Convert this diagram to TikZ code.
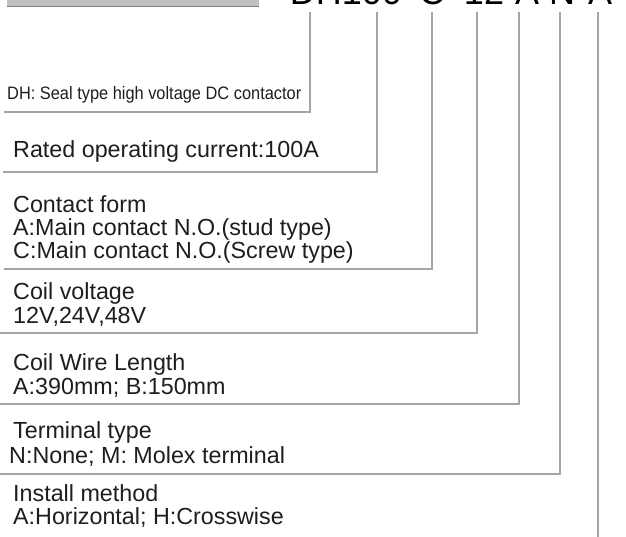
\documentclass[tikz,border=0pt]{standalone}
\usepackage{fontspec}
\setmainfont{Liberation Sans}
\newfontfamily\narrowsans[FakeStretch=0.91]{Liberation Sans}
\definecolor{leadgray}{RGB}{165,165,165}
\definecolor{textdark}{RGB}{30,30,30}
\definecolor{bargray}{RGB}{192,192,192}
\definecolor{barline}{RGB}{130,130,130}
\begin{document}
\begin{tikzpicture}[x=1pt,y=-1pt,
  lead/.style={draw=leadgray, line width=1.1pt},
  desc/.style={anchor=base west, inner sep=0pt, text=textdark, font=\fontsize{23.3}{24}\selectfont},
  smalldesc/.style={anchor=base west, inner sep=0pt, text=textdark, font=\narrowsans\fontsize{18}{20}\selectfont},
  code/.style={anchor=base, inner sep=0pt, text=black, font=\fontsize{36}{36}\selectfont}]
\useasboundingbox (0,0) rectangle (626,536);
\clip (0,0) rectangle (626,536);
% header bar (cut off at the top)
\fill[bargray] (7,-10) rectangle (259,6);
\draw[barline, line width=0.8pt] (7,6) -- (259,6);
% model code (cut off at the top)
\node[code] (k1) at (346,4) {DH100};
\node[code] (k2) at (432,4) {C};
\node[code] (k3) at (484,4) {12};
\node[code] (k4) at (527,4) {A};
\node[code] (k5) at (562,4) {N};
\node[code] (k6) at (600,4) {A};
% leader lines
\coordinate (t1) at (310,12); \coordinate (c1) at (310,112); \coordinate (e1) at (4,112);
\coordinate (t2) at (377,12); \coordinate (c2) at (377,172); \coordinate (e2) at (3,172);
\coordinate (t3) at (432,12); \coordinate (c3) at (432,269); \coordinate (e3) at (4,269);
\coordinate (t4) at (477,12); \coordinate (c4) at (477,333); \coordinate (e4) at (0,333);
\coordinate (t5) at (519,12); \coordinate (c5) at (519,404); \coordinate (e5) at (0,404);
\coordinate (t6) at (560,12); \coordinate (c6) at (560,474); \coordinate (e6) at (0,474);
\coordinate (t7) at (598,12); \coordinate (c7) at (598,540);
\draw[lead] (t1) -- (c1) -- (e1);
\draw[lead] (t2) -- (c2) -- (e2);
\draw[lead] (t3) -- (c3) -- (e3);
\draw[lead] (t4) -- (c4) -- (e4);
\draw[lead] (t5) -- (c5) -- (e5);
\draw[lead] (t6) -- (c6) -- (e6);
\draw[lead] (t7) -- (c7);
% descriptions
\node[smalldesc] (d1) at (7,99) {DH: Seal type high voltage DC contactor};
\node[desc] (d2) at (13,157) {Rated operating current:100A};
\node[desc] (d3a) at (13,212) {Contact form};
\node[desc] (d3b) at (13,235) {A:Main contact N.O.(stud type)};
\node[desc] (d3c) at (13,258) {C:Main contact N.O.(Screw type)};
\node[desc] (d4a) at (13,299) {Coil voltage};
\node[desc] (d4b) at (13,323) {12V,24V,48V};
\node[desc] (d5a) at (13,370) {Coil Wire Length};
\node[desc] (d5b) at (13,394) {A:390mm; B:150mm};
\node[desc] (d6a) at (13,438) {Terminal type};
\node[desc] (d6b) at (9,463) {N:None; M: Molex terminal};
\node[desc] (d7a) at (13,501) {Install method};
\node[desc] (d7b) at (13,524) {A:Horizontal; H:Crosswise};
\end{tikzpicture}
\end{document}
